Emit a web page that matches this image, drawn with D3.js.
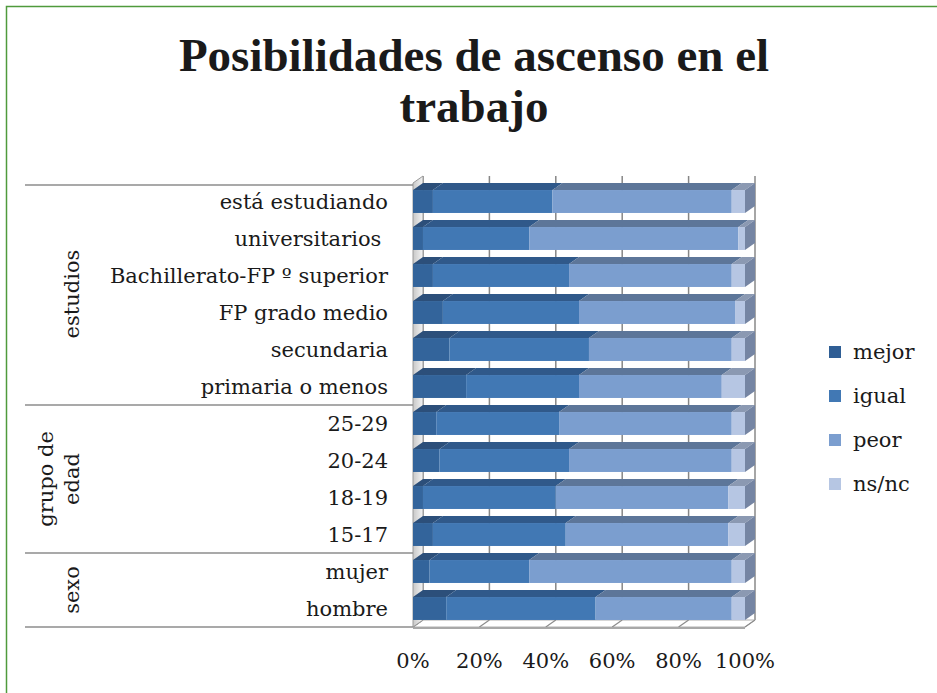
<!DOCTYPE html>
<html>
<head>
<meta charset="utf-8">
<script src="https://cdn.jsdelivr.net/npm/d3@7"></script>
<style>
  body { margin: 0; background: #fff; }
  text { font-family: "DejaVu Serif", serif; fill: #1a1a1a; }
</style>
</head>
<body>
<script>
// data (percent of each row)
var categories = ["está estudiando", "universitarios ", "Bachillerato-FP º superior", "FP grado medio",
  "secundaria", "primaria o menos", "25-29", "20-24", "18-19", "15-17", "mujer", "hombre"];
var seriesNames = ["mejor", "igual", "peor", "ns/nc"];
var mejor = [6, 3, 6, 9, 11, 16, 7, 8, 3, 6, 5, 10];
var igual = [36, 32, 41, 41, 42, 34, 37, 39, 40, 40, 30, 45];
var peor = [54, 63, 49, 47, 43, 43, 52, 49, 52, 49, 61, 41];
var nsnc = [4, 2, 4, 3, 4, 7, 4, 4, 5, 5, 4, 4];
var groupNames = [["estudios"], ["grupo de", "edad"], ["sexo"]];
var groupSizes = [6, 4, 2];
var xTicks = [0, 20, 40, 60, 80, 100];

var frontColors = ["#33649b", "#4178b4", "#7b9ecf", "#b6c6e3"];
var topColors = ["#2c4f7a", "#30598a", "#5d7699", "#8b99b2"];

var width = 937, height = 693;
var dx = 10, dy = -7;   // depth of the 3d effect
var fontSize = "21px";

var rows = categories.map(function(c, i) {
  return { cat: c, "mejor": mejor[i], "igual": igual[i], "peor": peor[i], "ns/nc": nsnc[i] };
});
var stacked = d3.stack().keys(seriesNames)(rows);

var svg = d3.select("body").append("svg")
  .attr("width", width)
  .attr("height", height);

// green frame (only top and left visible)
svg.append("path")
  .attr("d", "M6.5,693 L6.5,6.5 L937,6.5")
  .attr("fill", "none")
  .attr("stroke", "#4f9a3c")
  .attr("stroke-width", 1.5);

// title
["Posibilidades de ascenso en el", "trabajo"].forEach(function(t, i) {
  svg.append("text")
    .attr("x", 474).attr("y", 71 + i * 51)
    .attr("text-anchor", "middle")
    .style("font-family", "'Liberation Serif', serif")
    .style("font-weight", "bold")
    .style("font-size", "47px")
    .text(t);
});

var x = d3.scaleLinear().domain([0, 100]).range([413, 745]);
var y = d3.scaleBand().domain(categories).range([183, 627])
  .paddingInner(0.38).paddingOuter(0.19);
var step = y.step();
var top0 = y.range()[0], bottom0 = y.range()[1];

var defs = svg.append("defs");
var grad = defs.append("linearGradient").attr("id", "wall")
  .attr("x1", 0).attr("x2", 1).attr("y1", 0).attr("y2", 0);
grad.append("stop").attr("offset", 0).attr("stop-color", "#c8c8c8");
grad.append("stop").attr("offset", 1).attr("stop-color", "#f4f4f4");

// back wall gridlines
svg.append("g").selectAll("line")
  .data(xTicks)
  .enter().append("line")
  .attr("x1", function(d) { return x(d) + dx; })
  .attr("x2", function(d) { return x(d) + dx; })
  .attr("y1", top0 + dy)
  .attr("y2", bottom0 + dy)
  .attr("stroke", function(d) { return d == 100 ? "#a6a6a6" : "#868686"; })
  .attr("stroke-width", function(d) { return d == 100 ? 2 : 1.5; });

// floor
svg.append("path")
  .attr("d", "M" + x(0) + "," + bottom0 + " L" + (x(0) + dx) + "," + (bottom0 + dy) +
    " L" + (x(100) + dx) + "," + (bottom0 + dy) + " L" + x(100) + "," + bottom0 + "Z")
  .attr("fill", "#fff")
  .attr("stroke", "#b0b0b0")
  .attr("stroke-width", 1);
svg.append("g").selectAll("line")
  .data(xTicks)
  .enter().append("line")
  .attr("x1", function(d) { return x(d); })
  .attr("x2", function(d) { return x(d) + dx; })
  .attr("y1", bottom0)
  .attr("y2", bottom0 + dy)
  .attr("stroke", "#8c8c8c")
  .attr("stroke-width", 1.2);
svg.append("line")
  .attr("x1", x(0)).attr("x2", x(100))
  .attr("y1", bottom0 + 1).attr("y2", bottom0 + 1)
  .attr("stroke", "#a8a8a8")
  .attr("stroke-width", 2);

// left side wall
svg.append("path")
  .attr("d", "M" + x(0) + "," + top0 + " L" + (x(0) + dx) + "," + (top0 + dy) +
    " L" + (x(0) + dx) + "," + (bottom0 + dy) + " L" + x(0) + "," + bottom0 + "Z")
  .attr("fill", "url(#wall)")
  .attr("stroke", "#9a9a9a")
  .attr("stroke-width", 1);

// bars: front face, top face, and a cap at the right end
var layers = svg.append("g").selectAll("g")
  .data(stacked)
  .enter().append("g");

layers.selectAll(".top")
  .data(function(d) { return d; })
  .enter().append("path")
  .attr("class", "top")
  .attr("fill", function(d) { return topColors[seriesNames.indexOf(d3.select(this.parentNode).datum().key)]; })
  .attr("d", function(d) {
    var y0 = y(d.data.cat), x0 = x(d[0]), x1 = x(d[1]);
    return "M" + x0 + "," + y0 + " L" + (x0 + dx) + "," + (y0 + dy) +
      " L" + (x1 + dx) + "," + (y0 + dy) + " L" + x1 + "," + y0 + "Z";
  });

layers.selectAll(".front")
  .data(function(d) { return d; })
  .enter().append("rect")
  .attr("class", "front")
  .attr("x", function(d) { return x(d[0]); })
  .attr("y", function(d) { return y(d.data.cat); })
  .attr("width", function(d) { return x(d[1]) - x(d[0]); })
  .attr("height", y.bandwidth())
  .attr("fill", function(d) { return frontColors[seriesNames.indexOf(d3.select(this.parentNode).datum().key)]; });

svg.append("g").selectAll("path")
  .data(stacked[stacked.length - 1])
  .enter().append("path")
  .attr("fill", "#7585a3")
  .attr("d", function(d) {
    var y0 = y(d.data.cat), x1 = x(d[1]), h = y.bandwidth();
    return "M" + x1 + "," + y0 + " L" + (x1 + dx) + "," + (y0 + dy) +
      " L" + (x1 + dx) + "," + (y0 + dy + h) + " L" + x1 + "," + (y0 + h) + "Z";
  });

// category labels
svg.append("g").selectAll("text")
  .data(categories)
  .enter().append("text")
  .attr("x", 388)
  .attr("y", function(d) { return y(d) + y.bandwidth() / 2 + 7; })
  .attr("text-anchor", "end")
  .attr("xml:space", "preserve")
  .style("font-size", fontSize)
  .text(function(d) { return d; });

// group separators and group labels
var bounds = [0];
groupSizes.forEach(function(s, i) { bounds.push(bounds[i] + s); });

svg.append("g").selectAll("line")
  .data(bounds)
  .enter().append("line")
  .attr("x1", 25).attr("x2", x(0))
  .attr("y1", function(d) { return top0 + d * step + (d == 0 ? 2 : 0); })
  .attr("y2", function(d) { return top0 + d * step + (d == 0 ? 2 : 0); })
  .attr("stroke", "#8c8c8c")
  .attr("stroke-width", 1.5);

groupNames.forEach(function(lines, gi) {
  var cy = top0 + (bounds[gi] + bounds[gi + 1]) / 2 * step;
  var g = svg.append("g")
    .attr("transform", "translate(" + 79 + "," + cy + ") rotate(-90)");
  lines.forEach(function(t, li) {
    g.append("text")
      .attr("x", 0)
      .attr("y", (li - (lines.length - 1)) * 26)
      .attr("text-anchor", "middle")
      .style("font-size", fontSize)
      .text(t);
  });
});

// x axis labels
svg.append("g").selectAll("text")
  .data(xTicks)
  .enter().append("text")
  .attr("x", function(d) { return x(d); })
  .attr("y", 668)
  .attr("text-anchor", "middle")
  .style("font-size", fontSize)
  .text(function(d) { return d + "%"; });

// legend
var legend = svg.append("g").selectAll("g")
  .data(seriesNames)
  .enter().append("g")
  .attr("transform", function(d, i) { return "translate(829," + (352 + i * 44) + ")"; });
legend.append("rect")
  .attr("x", 0).attr("y", -6)
  .attr("width", 12).attr("height", 12)
  .attr("fill", function(d, i) { return i == 0 ? "#2f5e95" : frontColors[i]; });
legend.append("text")
  .attr("x", 24).attr("y", 7)
  .style("font-size", fontSize)
  .text(function(d) { return d; });
</script>
</body>
</html>
